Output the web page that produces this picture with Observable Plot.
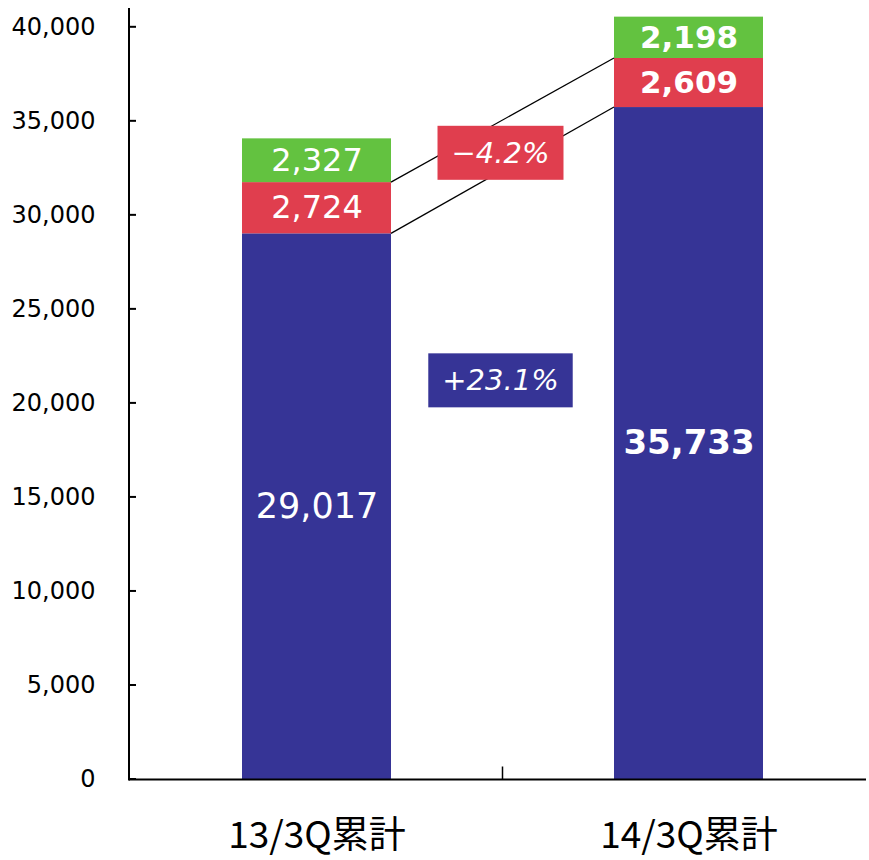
<!DOCTYPE html>
<html><head><meta charset="utf-8">
<script src="https://cdn.jsdelivr.net/npm/d3@7"></script>
<script src="https://cdn.jsdelivr.net/npm/@observablehq/plot@0.6"></script>
<style>body{margin:0;background:#fff}</style>
</head><body><div id="chart"></div>
<script>
// ---- data ----
const categories = ["13/3Q累計", "14/3Q累計"];
const seriesNames = ["base", "red", "green"];
const baseValues = [29017, 35733];
const redValues = [2724, 2609];
const greenValues = [2327, 2198];
const changeLabels = ["\u22124.2%", "+23.1%"];
const changeSeries = ["red", "base"];
const changeAnchorY = [33300, 21200]; // estimated vertical centre of the change boxes
const yTicks = [0, 5000, 10000, 15000, 20000, 25000, 30000, 35000, 40000];
const seriesColors = ["#363496", "#E03E4E", "#63C240"];

const rows = [];
categories.forEach((cat, i) => {
  rows.push({cat, series: "base", value: baseValues[i], idx: i});
  rows.push({cat, series: "red", value: redValues[i], idx: i});
  rows.push({cat, series: "green", value: greenValues[i], idx: i});
});
const fmt = d3.format(",");
const colorOf = s => seriesColors[seriesNames.indexOf(s)];

function overlay(index, scales, values, dims) {
  const x = scales.x, y = scales.y;
  const bw = typeof x.bandwidth === "function" ? x.bandwidth() : scales.scales.x.bandwidth;
  const g = d3.create("svg:g");
  const x0r = x(categories[0]) + bw, x1l = x(categories[1]);
  // connector lines
  const pairs = [
    [baseValues[0], baseValues[1]],
    [baseValues[0] + redValues[0], baseValues[1] + redValues[1]]
  ];
  pairs.forEach(([a, b]) => {
    g.append("line").attr("x1", x0r).attr("y1", y(a)).attr("x2", x1l).attr("y2", y(b))
      .attr("stroke", "#000").attr("stroke-width", 1.3);
  });
  // axes lines
  const left = dims.marginLeft - 1;
  const bottom = y(0) + 0.5;
  g.append("line").attr("x1", left).attr("x2", left).attr("y1", dims.marginTop).attr("y2", bottom + 1)
    .attr("stroke", "#000").attr("stroke-width", 2);
  g.append("line").attr("x1", left).attr("x2", dims.width - 3).attr("y1", bottom).attr("y2", bottom)
    .attr("stroke", "#000").attr("stroke-width", 2);
  yTicks.forEach(t => {
    g.append("line").attr("x1", left).attr("x2", left + 7).attr("y1", y(t)).attr("y2", y(t))
      .attr("stroke", "#000").attr("stroke-width", 2);
  });
  const mid = (x0r + x1l) / 2;
  g.append("line").attr("x1", mid).attr("x2", mid).attr("y1", bottom - 13).attr("y2", bottom)
    .attr("stroke", "#000").attr("stroke-width", 1.5);
  // change boxes
  changeLabels.forEach((lab, i) => {
    const cy = y(changeAnchorY[i]);
    const cx = mid - 2;
    const a = g.append("g").attr("class", "ann").attr("data-cx", cx);
    a.append("rect").attr("x", cx - 68).attr("width", 136).attr("y", cy - 27).attr("height", 54)
      .attr("fill", colorOf(changeSeries[i]));
    a.append("text").attr("x", cx).attr("y", cy).attr("text-anchor", "middle")
      .attr("dominant-baseline", "central").attr("fill", "#fff")
      .attr("font-family", "DejaVu Sans").attr("font-style", "italic").attr("font-size", 29)
      .text(lab);
  });
  return g.node();
}

const stackText = (test, extra) => Plot.text(rows, Plot.stackY({
  x: "cat", y: "value", z: "series", order: seriesNames,
  text: d => test(d) ? fmt(d.value) : null,
  fill: "#fff", fontFamily: "DejaVu Sans", ...extra
}));

const chart = Plot.plot({
  width: 869,
  height: 860,
  marginTop: 8,
  marginBottom: 81,
  marginLeft: 130,
  marginRight: 0,
  style: {fontFamily: "DejaVu Sans", fontSize: "24px", background: "#fff", color: "#000"},
  x: {type: "band", domain: categories, range: [130, 874], paddingInner: 0.6, paddingOuter: 0.3, label: null},
  y: {domain: [0, 41000], label: null},
  color: {domain: seriesNames, range: seriesColors},
  marks: [
    Plot.barY(rows, {x: "cat", y: "value", fill: "series", z: "series", order: seriesNames}),
    overlay,
    stackText(d => d.idx === 0 && d.series !== "base", {fontSize: 32}),
    stackText(d => d.idx === 0 && d.series === "base", {fontSize: 35}),
    stackText(d => d.idx === 1 && d.series !== "base", {fontSize: 31, fontWeight: "bold"}),
    stackText(d => d.idx === 1 && d.series === "base", {fontSize: 34, fontWeight: "bold"}),
    Plot.axisY({ticks: yTicks, tickFormat: d => fmt(d), tickSize: 0, tickPadding: 35, fontSize: 24}),
    Plot.axisX({tickSize: 0, tickPadding: 42, fontSize: 37, fontFamily: "Noto Sans CJK JP"})
  ]
});
document.getElementById("chart").appendChild(chart);
// size change boxes to their text
d3.select(chart).selectAll("g.ann").each(function() {
  const gg = d3.select(this);
  const t = gg.select("text").node().getBBox();
  const w = t.width + 28;
  const cx = +gg.attr("data-cx");
  gg.select("rect").attr("x", cx - w / 2).attr("width", w);
});
</script>
</body></html>
